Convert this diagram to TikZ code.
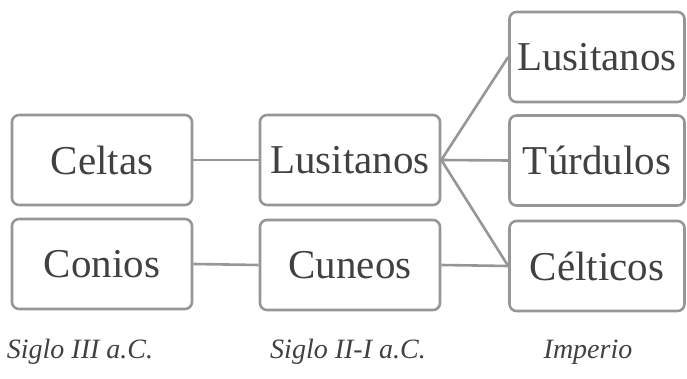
\documentclass[tikz,border=0pt]{standalone}
\usepackage{fontspec}
\setmainfont{Liberation Serif}
\definecolor{edgegray}{RGB}{150,150,150}
\definecolor{txtgray}{RGB}{65,65,65}
\tikzset{
  tribe/.style={draw=edgegray, line width=2.6pt, rounded corners=7pt, minimum width=180pt, minimum height=90pt, inner sep=0pt, text=txtgray, font=\fontsize{41}{45}\selectfont},
  tribeR/.style={tribe, minimum width=175pt},
  link/.style={draw=edgegray, line width=2.6pt},
  era/.style={text=txtgray, font=\fontsize{28}{32}\selectfont\itshape, inner sep=0pt}
}
\begin{document}
\begin{tikzpicture}[x=1pt,y=-1pt]
\useasboundingbox (0,0) rectangle (687,379);
\node[tribe] (celtas) at (102,160) {Celtas};
\node[tribe] (conios) at (102,264) {Conios};
\node[tribe] (lusm) at (350,160) {Lusitanos};
\node[tribe] (cuneos) at (350,265) {Cuneos};
\node[tribeR] (lusr) at (597,57) {Lusitanos};
\node[tribeR] (turd) at (597,160.5) {Túrdulos};
\node[tribeR] (celt) at (597,266) {Célticos};
\draw[link] (celtas.east) -- (lusm.west);
\draw[link] (conios.east) -- (cuneos.west);
\draw[link] (cuneos.east) -- (celt.west);
\draw[link] (lusm.east) -- (lusr.west);
\draw[link] (lusm.east) -- (turd.west);
\draw[link] (lusm.east) -- (celt.west);
\node[era] (e1) at (80,352) {Siglo III a.C.};
\node[era] (e2) at (348,352) {Siglo II-I a.C.};
\node[era] (e3) at (588,352) {Imperio};
\end{tikzpicture}
\end{document}
